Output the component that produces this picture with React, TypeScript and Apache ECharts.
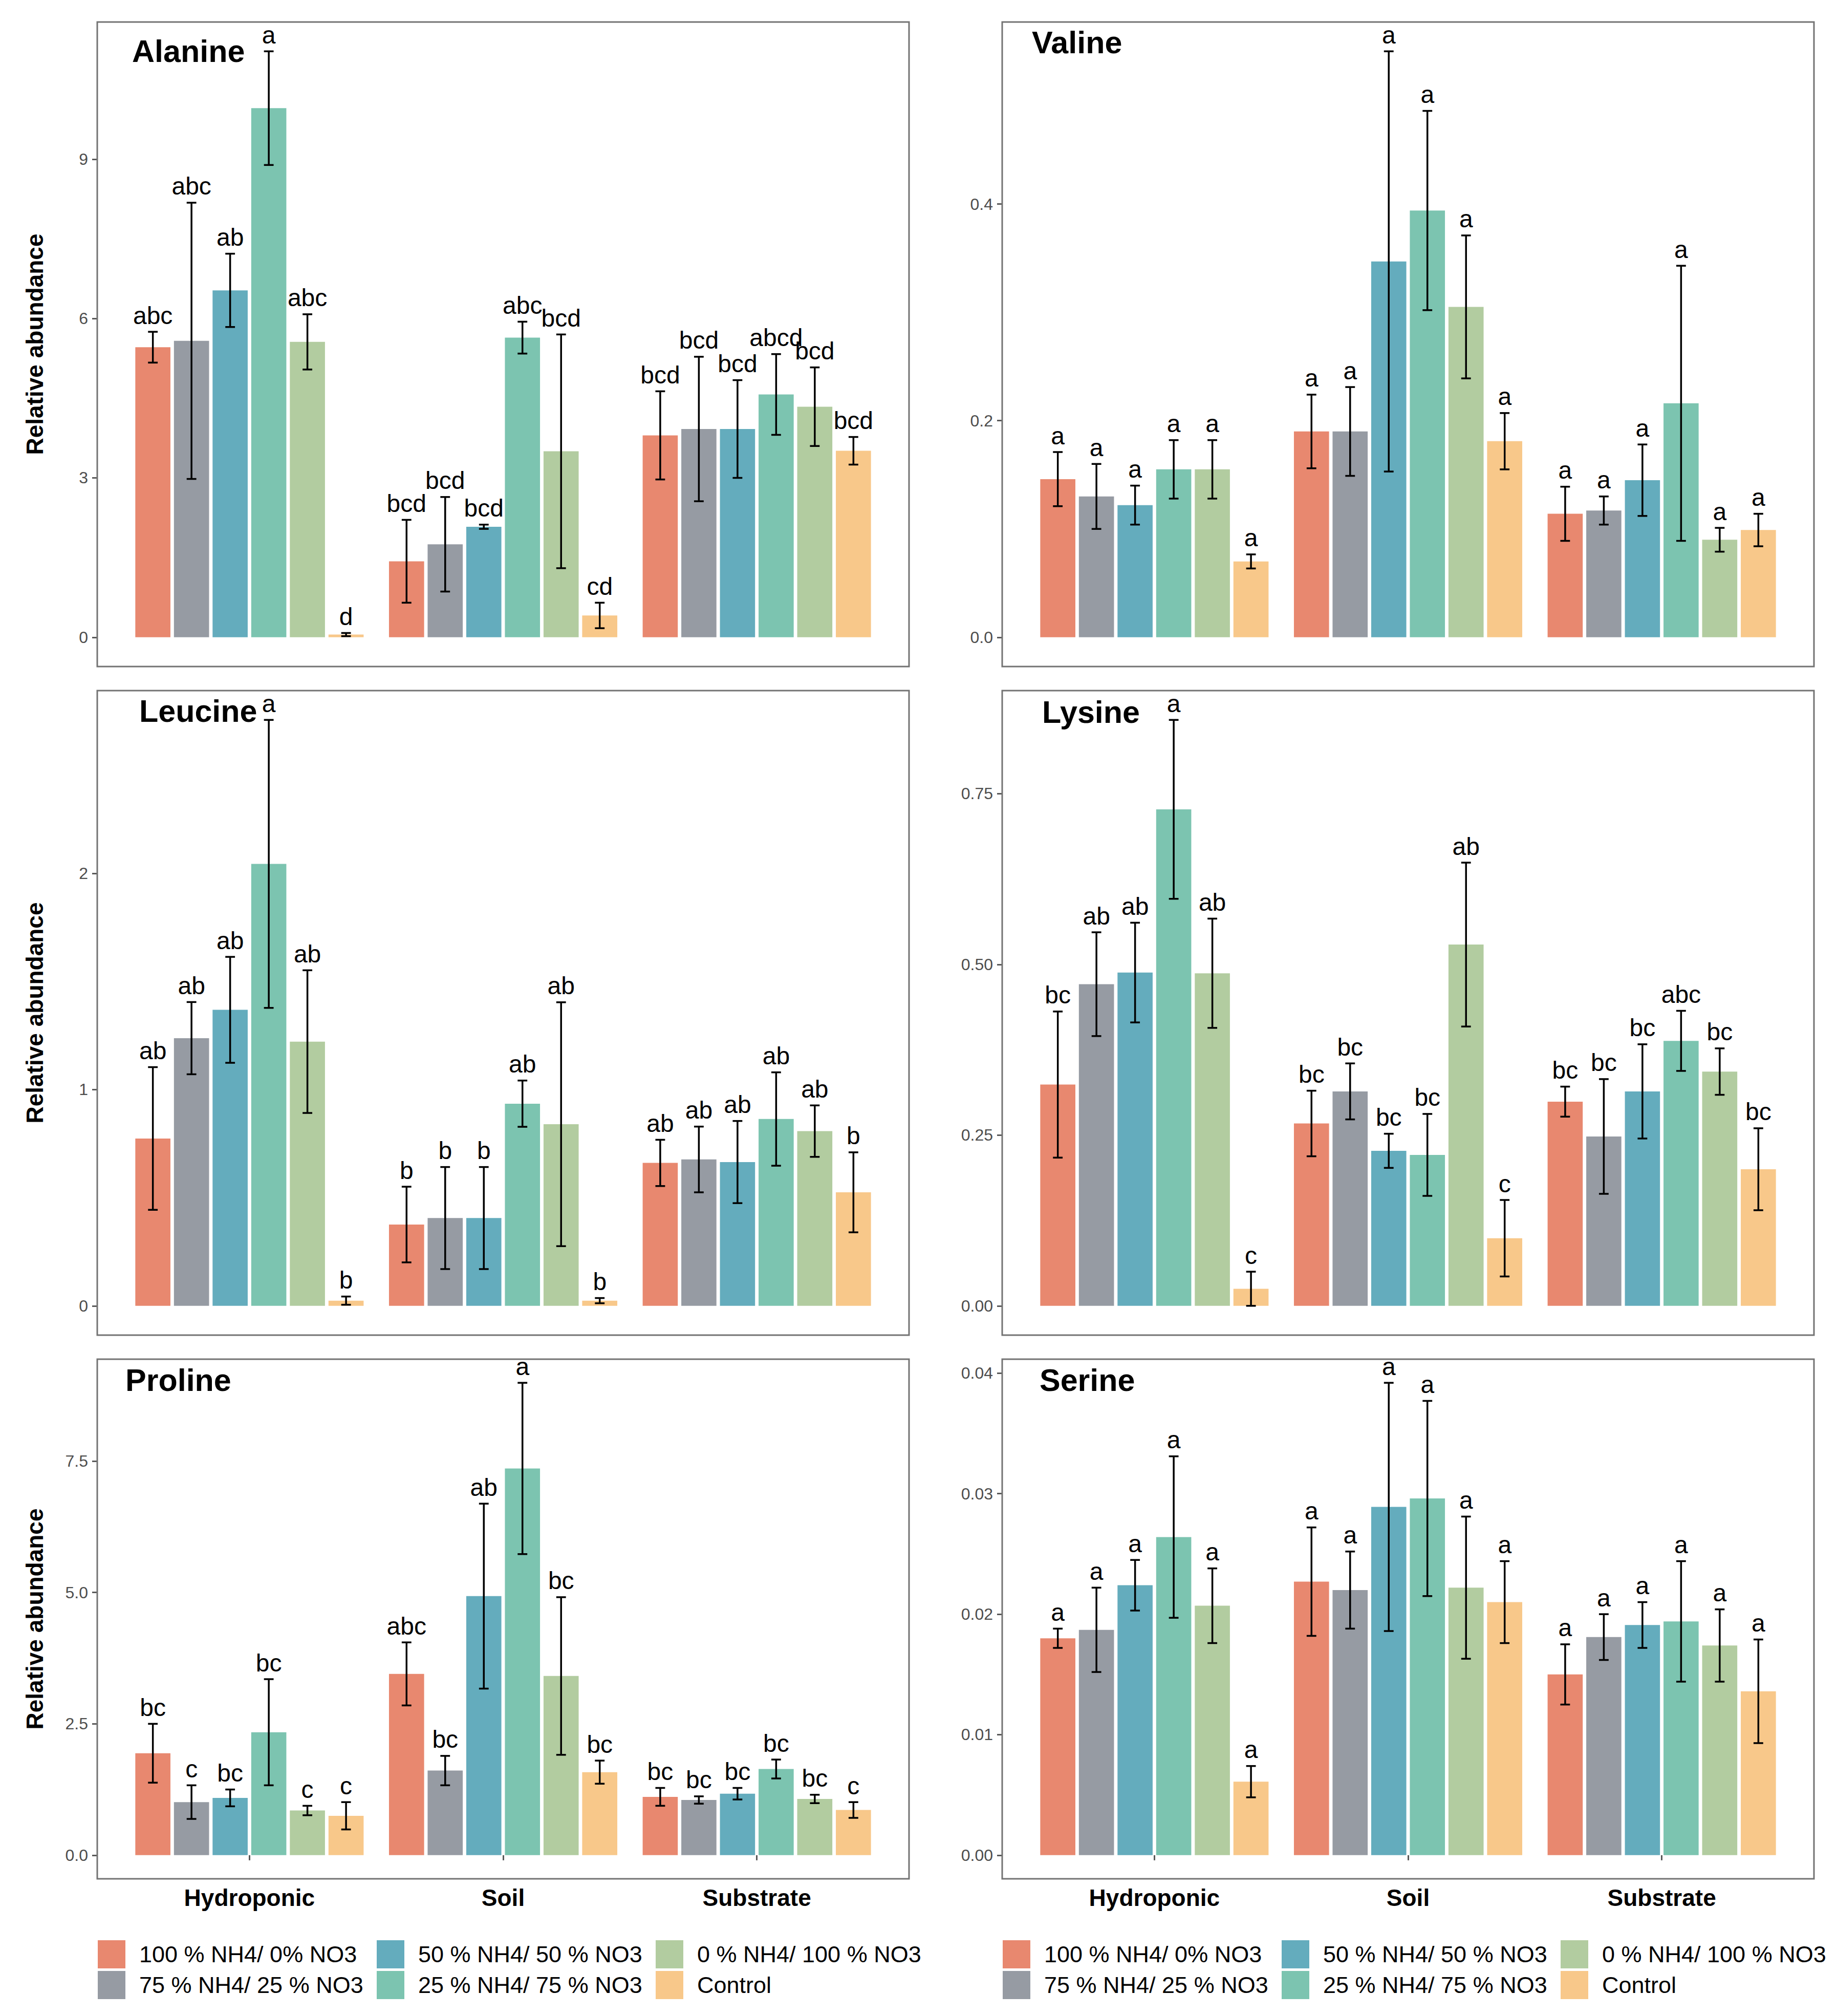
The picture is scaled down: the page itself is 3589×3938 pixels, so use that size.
import React, { useEffect, useRef } from 'react';
import * as echarts from 'echarts';

const FONT = '"Liberation Sans", Arial, Helvetica, sans-serif';

const categories = ['Hydroponic', 'Soil', 'Substrate'];
const treatments = [
  '100 % NH4/ 0% NO3',
  '75 % NH4/ 25 % NO3',
  '50 % NH4/ 50 % NO3',
  '25 % NH4/ 75 % NO3',
  '0 % NH4/ 100 % NO3',
  'Control',
];
const colors = ['#E8886F', '#969BA3', '#64ACBD', '#7CC4B0', '#B2CCA0', '#F8C88A'];

// values: [category][treatment]
const alanineMean = [
  [5.46, 5.58, 6.53, 9.96, 5.56, 0.05],
  [1.43, 1.75, 2.08, 5.64, 3.5, 0.41],
  [3.8, 3.92, 3.92, 4.57, 4.34, 3.51],
];
const alanineSE = [
  [0.29, 2.6, 0.69, 1.07, 0.52, 0.03],
  [0.78, 0.89, 0.04, 0.3, 2.2, 0.24],
  [0.83, 1.36, 0.92, 0.76, 0.74, 0.26],
];
const alanineLetters = [
  ['abc', 'abc', 'ab', 'a', 'abc', 'd'],
  ['bcd', 'bcd', 'bcd', 'abc', 'bcd', 'cd'],
  ['bcd', 'bcd', 'bcd', 'abcd', 'bcd', 'bcd'],
];
const alanineTicks = ['0', '3', '6', '9'];

const valineMean = [
  [0.146, 0.13, 0.122, 0.155, 0.155, 0.07],
  [0.19, 0.19, 0.347, 0.394, 0.305, 0.181],
  [0.114, 0.117, 0.145, 0.216, 0.09, 0.099],
];
const valineSE = [
  [0.025, 0.03, 0.018, 0.027, 0.027, 0.0065],
  [0.034, 0.041, 0.194, 0.092, 0.066, 0.026],
  [0.025, 0.013, 0.033, 0.127, 0.011, 0.015],
];
const valineLetters = [
  ['a', 'a', 'a', 'a', 'a', 'a'],
  ['a', 'a', 'a', 'a', 'a', 'a'],
  ['a', 'a', 'a', 'a', 'a', 'a'],
];
const valineTicks = ['0.0', '0.2', '0.4'];

const leucineMean = [
  [0.774, 1.238, 1.369, 2.044, 1.222, 0.024],
  [0.376, 0.406, 0.406, 0.935, 0.84, 0.024],
  [0.661, 0.677, 0.665, 0.864, 0.808, 0.525],
];
const leucineSE = [
  [0.33, 0.167, 0.245, 0.666, 0.33, 0.019],
  [0.175, 0.236, 0.236, 0.107, 0.564, 0.012],
  [0.107, 0.152, 0.19, 0.216, 0.119, 0.185],
];
const leucineLetters = [
  ['ab', 'ab', 'ab', 'a', 'ab', 'b'],
  ['b', 'b', 'b', 'ab', 'ab', 'b'],
  ['ab', 'ab', 'ab', 'ab', 'ab', 'b'],
];
const leucineTicks = ['0', '1', '2'];

const lysineMean = [
  [0.324, 0.471, 0.488, 0.727, 0.487, 0.025],
  [0.267, 0.314, 0.227, 0.221, 0.529, 0.099],
  [0.299, 0.248, 0.314, 0.388, 0.343, 0.2],
];
const lysineSE = [
  [0.107, 0.076, 0.073, 0.131, 0.08, 0.025],
  [0.048, 0.041, 0.025, 0.06, 0.12, 0.056],
  [0.022, 0.084, 0.069, 0.044, 0.034, 0.06],
];
const lysineLetters = [
  ['bc', 'ab', 'ab', 'a', 'ab', 'c'],
  ['bc', 'bc', 'bc', 'bc', 'ab', 'c'],
  ['bc', 'bc', 'bc', 'abc', 'bc', 'bc'],
];
const lysineTicks = ['0.00', '0.25', '0.50', '0.75'];

const prolineMean = [
  [1.94, 1.01, 1.09, 2.34, 0.85, 0.75],
  [3.45, 1.61, 4.93, 7.36, 3.41, 1.58],
  [1.11, 1.05, 1.17, 1.64, 1.07, 0.86],
];
const prolineSE = [
  [0.56, 0.32, 0.16, 1.01, 0.09, 0.26],
  [0.6, 0.28, 1.76, 1.63, 1.5, 0.22],
  [0.17, 0.07, 0.11, 0.18, 0.08, 0.15],
];
const prolineLetters = [
  ['bc', 'c', 'bc', 'bc', 'c', 'c'],
  ['abc', 'bc', 'ab', 'a', 'bc', 'bc'],
  ['bc', 'bc', 'bc', 'bc', 'bc', 'c'],
];
const prolineTicks = ['0.0', '2.5', '5.0', '7.5'];

const serineMean = [
  [0.018, 0.0187, 0.0224, 0.0264, 0.0207, 0.0061],
  [0.0227, 0.022, 0.0289, 0.0296, 0.0222, 0.021],
  [0.015, 0.0181, 0.0191, 0.0194, 0.0174, 0.0136],
];
const serineSE = [
  [0.0008, 0.0035, 0.0021, 0.0067, 0.0031, 0.0013],
  [0.0045, 0.0032, 0.0103, 0.0081, 0.0059, 0.0034],
  [0.0025, 0.0019, 0.0019, 0.005, 0.003, 0.0043],
];
const serineLetters = [
  ['a', 'a', 'a', 'a', 'a', 'a'],
  ['a', 'a', 'a', 'a', 'a', 'a'],
  ['a', 'a', 'a', 'a', 'a', 'a'],
];
const serineTicks = ['0.00', '0.01', '0.02', '0.03', '0.04'];

const panels = [
  { name: 'Alanine', mean: alanineMean, se: alanineSE, letters: alanineLetters, ticks: alanineTicks, col: 0, row: 0, titleX: 258, titleDY: 57 },
  { name: 'Valine', mean: valineMean, se: valineSE, letters: valineLetters, ticks: valineTicks, col: 1, row: 0, titleX: 2016, titleDY: 40 },
  { name: 'Leucine', mean: leucineMean, se: leucineSE, letters: leucineLetters, ticks: leucineTicks, col: 0, row: 1, titleX: 272, titleDY: 40 },
  { name: 'Lysine', mean: lysineMean, se: lysineSE, letters: lysineLetters, ticks: lysineTicks, col: 1, row: 1, titleX: 2036, titleDY: 42 },
  { name: 'Proline', mean: prolineMean, se: prolineSE, letters: prolineLetters, ticks: prolineTicks, col: 0, row: 2, titleX: 245, titleDY: 41 },
  { name: 'Serine', mean: serineMean, se: serineSE, letters: serineLetters, ticks: serineTicks, col: 1, row: 2, titleX: 2031, titleDY: 41 },
];

const W = 3589;
const H = 3938;
const FRAME_LEFT = [190, 1958];
const FRAME_W = 1586;
const ROW_TOP = [43, 1349, 2655];
const ROW_H = [1259, 1259, 1015];
const UNIT = FRAME_W / 3.2; // ggplot discrete expansion 0.6 each side
const INSET = UNIT * 0.1;
const LEGEND_X = [191, 736, 1281];
const LEGEND_TOP = 3790;

function buildOption() {
  const grid: any[] = [];
  const xAxis: any[] = [];
  const yAxis: any[] = [];
  const series: any[] = [];
  const graphic: any[] = [];

  panels.forEach((p, pi) => {
    const fl = FRAME_LEFT[p.col];
    const ft = ROW_TOP[p.row];
    const fh = ROW_H[p.row];
    const bottomRow = p.row === 2;
    let M = 0;
    p.mean.forEach((row, c) => row.forEach((m, k) => { M = Math.max(M, m + p.se[c][k]); }));
    const tickVals = p.ticks.map((t) => Number(t));

    grid.push({ left: fl + INSET, top: ft, width: UNIT * 3, height: fh, containLabel: false });
    xAxis.push({
      type: 'category',
      gridIndex: pi,
      data: categories,
      axisLine: { show: false },
      axisTick: { show: bottomRow, alignWithLabel: true, length: 10, lineStyle: { color: '#5a5a5a', width: 3 } },
      axisLabel: { show: bottomRow, fontSize: 46, fontWeight: 'bold', color: '#000', fontFamily: FONT, margin: 14 },
      splitLine: { show: false },
    });
    yAxis.push({
      type: 'value',
      gridIndex: pi,
      min: -0.05 * M,
      max: 1.05 * M,
      offset: INSET,
      axisLine: { show: false },
      axisTick: { show: true, length: 10, customValues: tickVals, lineStyle: { color: '#5a5a5a', width: 3 } },
      axisLabel: {
        customValues: tickVals,
        fontSize: 32,
        color: '#4D4D4D',
        fontFamily: FONT,
        margin: 18,
        formatter: (v: number) => {
          const i = tickVals.findIndex((t) => Math.abs(t - v) < 1e-9);
          return i >= 0 ? p.ticks[i] : '';
        },
      },
      splitLine: { show: false },
    });

    treatments.forEach((t, k) => {
      series.push({
        type: 'bar',
        name: t,
        xAxisIndex: pi,
        yAxisIndex: pi,
        data: categories.map((_, c) => p.mean[c][k]),
        itemStyle: { color: colors[k] },
        barGap: '10%',
        barCategoryGap: '10%',
        silent: true,
        emphasis: { disabled: true },
      });
    });

    const errData: number[][] = [];
    const letterList: string[] = [];
    categories.forEach((_, c) => {
      treatments.forEach((__, k) => {
        errData.push([c, k, p.mean[c][k], p.se[c][k]]);
        letterList.push(p.letters[c][k]);
      });
    });
    series.push({
      type: 'custom',
      xAxisIndex: pi,
      yAxisIndex: pi,
      z: 10,
      silent: true,
      encode: { x: 0, y: 2 },
      data: errData,
      renderItem: (params: any, api: any) => {
        const c = api.value(0);
        const k = api.value(1);
        const m = api.value(2);
        const s = api.value(3);
        const band = api.size([1, 0])[0];
        const bw = (band * 0.9) / 6.5;
        const pitch = bw * 1.1;
        const cx = api.coord([c, 0])[0] + (k - 2.5) * pitch;
        const yTop = api.coord([c, m + s])[1];
        const yBot = api.coord([c, m - s])[1];
        const hw = pitch * 0.125;
        const ls = { stroke: '#000', lineWidth: 3.5 };
        return {
          type: 'group',
          children: [
            { type: 'line', shape: { x1: cx, y1: yTop, x2: cx, y2: yBot }, style: ls },
            { type: 'line', shape: { x1: cx - hw, y1: yTop, x2: cx + hw, y2: yTop }, style: ls },
            { type: 'line', shape: { x1: cx - hw, y1: yBot, x2: cx + hw, y2: yBot }, style: ls },
            {
              type: 'text',
              x: cx,
              y: yTop - 8,
              style: { text: letterList[params.dataIndex], fontSize: 48, fontFamily: FONT, fill: '#000', align: 'center', verticalAlign: 'bottom' },
            },
          ],
        };
      },
    });

    graphic.push({
      type: 'rect',
      shape: { x: fl, y: ft, width: FRAME_W, height: fh },
      style: { fill: 'none', stroke: '#737373', lineWidth: 3 },
      silent: true,
      z: 5,
    });
    graphic.push({
      type: 'text',
      x: p.titleX,
      y: ft + p.titleDY,
      style: { text: p.name, fontSize: 61, fontWeight: 'bold', fontFamily: FONT, fill: '#000', align: 'left', verticalAlign: 'middle' },
      silent: true,
      z: 20,
    });
    if (p.col === 0) {
      graphic.push({
        type: 'text',
        x: 68,
        y: ft + fh / 2,
        rotation: Math.PI / 2,
        style: { text: 'Relative abundance', fontSize: 46, fontWeight: 'bold', fontFamily: FONT, fill: '#000', align: 'center', verticalAlign: 'middle' },
        silent: true,
      });
    }
  });

  const legend: any[] = [];
  [0, 1].forEach((side) => {
    LEGEND_X.forEach((lx, j) => {
      legend.push({
        orient: 'vertical',
        left: lx + (side === 1 ? FRAME_LEFT[1] - FRAME_LEFT[0] : 0),
        top: LEGEND_TOP,
        padding: 0,
        itemWidth: 54,
        itemHeight: 55,
        itemGap: 5,
        icon: 'rect',
        selectedMode: false,
        data: [treatments[j * 2], treatments[j * 2 + 1]],
        textStyle: { fontSize: 45, color: '#000', fontFamily: FONT, padding: [0, 0, 0, 22] },
      });
    });
  });

  return {
    animation: false,
    backgroundColor: '#fff',
    grid,
    xAxis,
    yAxis,
    series,
    graphic,
    legend,
  };
}

export default function App() {
  const ref = useRef<HTMLDivElement>(null);
  useEffect(() => {
    document.body.style.margin = '0';
    if (!ref.current) return;
    const chart = echarts.init(ref.current, undefined, { renderer: 'svg', width: W, height: H });
    chart.setOption(buildOption() as any);
    return () => chart.dispose();
  }, []);
  return <div ref={ref} style={{ width: W, height: H, background: '#fff' }} />;
}
